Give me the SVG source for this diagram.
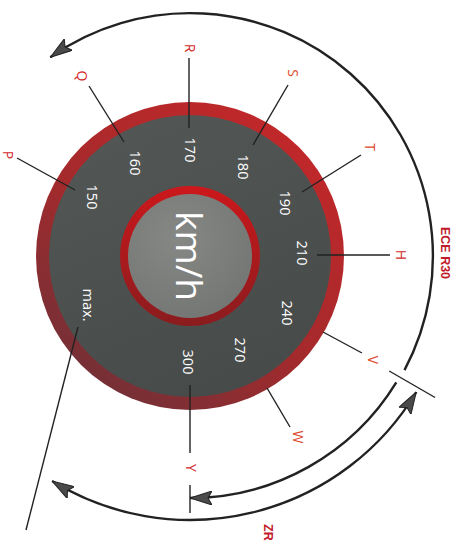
<svg xmlns="http://www.w3.org/2000/svg" width="461" height="541" viewBox="0 0 461 541">
<style>
.num{font-family:"Open Sans","Liberation Sans",sans-serif;font-size:14.5px;fill:#ffffff;text-anchor:middle;dominant-baseline:central}
.let{font-family:"Open Sans","Liberation Sans",sans-serif;font-size:14px;fill:#d22a2a;text-anchor:middle;dominant-baseline:central}
.or{fill:#dc4a2a}
.lead{stroke:#222;stroke-width:1.4;fill:none}
.arc{stroke:#222;stroke-width:2.4;fill:none}
.cap{font-family:"Liberation Sans",Arial,sans-serif;font-size:12.5px;font-weight:bold;fill:#c21a2c;dominant-baseline:central}
</style>
<defs>
<linearGradient id="ring" x1="0.8" y1="0.1" x2="0.2" y2="0.9">
<stop offset="0" stop-color="#c0282a"/>
<stop offset="0.55" stop-color="#a42a2c"/>
<stop offset="1" stop-color="#763036"/>
</linearGradient>
<linearGradient id="disk" x1="0.3" y1="0" x2="0.7" y2="1">
<stop offset="0" stop-color="#525654"/>
<stop offset="1" stop-color="#464a49"/>
</linearGradient>
<linearGradient id="iring" x1="0.5" y1="0" x2="0.5" y2="1">
<stop offset="0" stop-color="#cc181c"/>
<stop offset="1" stop-color="#8a1c1e"/>
</linearGradient>
<radialGradient id="igray" cx="0.4" cy="0.35" r="0.7">
<stop offset="0" stop-color="#868886"/>
<stop offset="1" stop-color="#747674"/>
</radialGradient>
<marker id="ah" viewBox="0 0 22 14" refX="22" refY="7" markerWidth="22" markerHeight="14" markerUnits="userSpaceOnUse" orient="auto-start-reverse">
<path d="M0,0 L22,7 L0,14 L4,7 Z" fill="#4a4a4a" stroke="#222" stroke-width="1"/>
</marker>
</defs>

<g id="gauge">
<circle cx="190" cy="256" r="154" fill="url(#ring)"/>
<circle cx="190" cy="256" r="141" fill="url(#disk)"/>
<circle cx="190" cy="256" r="70" fill="url(#iring)"/>
<circle cx="190" cy="256" r="62" fill="url(#igray)"/>
<text x="0" y="0" transform="translate(190,256) rotate(90)" font-family="'Open Sans','Liberation Sans',sans-serif" font-size="37" fill="#ffffff" text-anchor="middle" dominant-baseline="central">km/h</text>
</g>

<g id="connectors">
<line class="lead" x1="189" y1="58" x2="189" y2="128"/>
<line class="lead" x1="89" y1="86" x2="124" y2="142"/>
<line class="lead" x1="17" y1="158" x2="75" y2="190"/>
<line class="lead" x1="288" y1="85" x2="253" y2="145"/>
<line class="lead" x1="361" y1="155" x2="302" y2="192"/>
<line class="lead" x1="317" y1="255" x2="390" y2="255"/>
<line class="lead" x1="323" y1="332" x2="362" y2="353"/>
<line class="lead" x1="267" y1="388" x2="290" y2="427"/>
<line class="lead" x1="190" y1="385" x2="190" y2="453"/>
<line class="lead" x1="78" y1="327" x2="26" y2="530"/>
<line class="lead" x1="389.2" y1="371" x2="435.1" y2="397.5"/>
<line class="lead" x1="190" y1="485" x2="190" y2="513"/>
<path class="arc" d="M404.5,370.1 A243,243 0 0,0 50.3,57.2" marker-end="url(#ah)"/>
<path class="arc" d="M396.3,382.4 A242,242 0 0,1 190,498" marker-end="url(#ah)"/>
<path class="arc" d="M416.3,392 A264,264 0 0,1 52.1,481.1" marker-start="url(#ah)" marker-end="url(#ah)"/>
</g>

<g id="numbers">
<text class="num" transform="translate(92,197) rotate(90)">150</text>
<text class="num" transform="translate(135,163) rotate(90)">160</text>
<text class="num" transform="translate(190,150) rotate(90)">170</text>
<text class="num" transform="translate(243,167) rotate(90)">180</text>
<text class="num" transform="translate(285,203) rotate(90)">190</text>
<text class="num" transform="translate(302,253) rotate(90)">210</text>
<text class="num" transform="translate(287,313) rotate(90)">240</text>
<text class="num" transform="translate(240,350) rotate(90)">270</text>
<text class="num" transform="translate(188,362) rotate(90)">300</text>
<text class="num" transform="translate(88,305) rotate(90)">max.</text>
</g>

<g id="letters">
<text class="let" transform="translate(8,155) rotate(90)">P</text>
<text class="let" transform="translate(82,76) rotate(90)">Q</text>
<text class="let" transform="translate(190,48) rotate(90)">R</text>
<text class="let or" transform="translate(293,73) rotate(90)">S</text>
<text class="let or" transform="translate(370,147) rotate(90)">T</text>
<text class="let" transform="translate(401,255) rotate(90)">H</text>
<text class="let or" transform="translate(373,360) rotate(90)">V</text>
<text class="let or" transform="translate(298,437) rotate(90)">W</text>
<text class="let" transform="translate(191,468) rotate(90)">Y</text>
</g>

<g id="captions">
<text class="cap" text-anchor="middle" transform="translate(445,253) rotate(90)">ECE R30</text>
<text class="cap" text-anchor="start" transform="translate(268,524) rotate(90)">ZR</text>
</g>
</svg>
